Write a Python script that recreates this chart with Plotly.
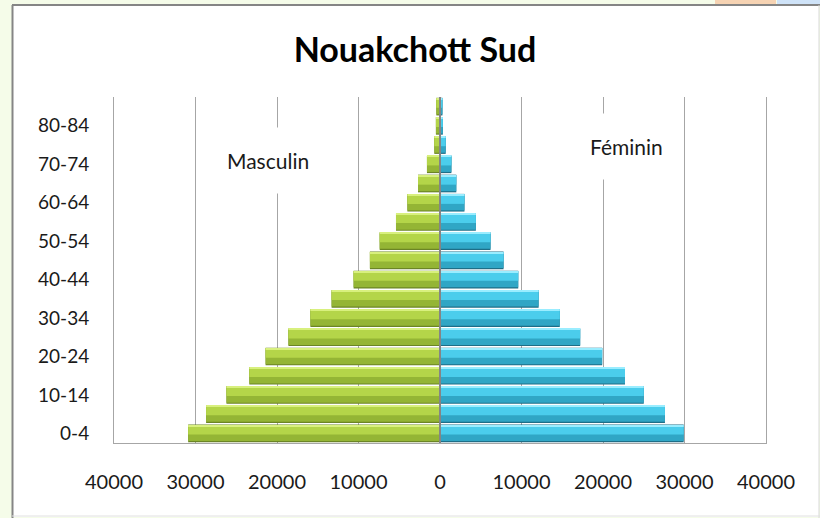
import plotly.graph_objects as go

age_groups = ["0-4", "5-9", "10-14", "15-19", "20-24", "25-29", "30-34", "35-39",
              "40-44", "45-49", "50-54", "55-59", "60-64", "65-69", "70-74",
              "75-79", "80-84", "85+"]
masculin = [30900, 28700, 26200, 23400, 21400, 18600, 15900, 13300, 10600,
            8600, 7400, 5400, 4000, 2700, 1600, 700, 500, 450]
feminin = [29900, 27600, 25000, 22700, 19900, 17200, 14700, 12100, 9600,
           7800, 6200, 4400, 3000, 2000, 1400, 700, 350, 300]
y_tick_labels = ["0-4", "10-14", "20-24", "30-34", "40-44", "50-54", "60-64", "70-74", "80-84"]
x_tick_values = [-40000, -30000, -20000, -10000, 0, 10000, 20000, 30000, 40000]
x_tick_labels = ["40000", "30000", "20000", "10000", "0", "10000", "20000", "30000", "40000"]

FONT = "Lato, 'Open Sans', sans-serif"

# bevel layers: (width, offset, color)
green_layers = [(0.92, -0.46, "#6b8525"), (0.84, -0.40, "#94b535"),
                (0.50, -0.06, "#b4d549"), (0.06, 0.38, "#d8f07e")]
blue_layers = [(0.92, -0.46, "#1e6e87"), (0.84, -0.40, "#30a6c5"),
               (0.50, -0.06, "#4bcdec"), (0.06, 0.38, "#9aedff")]

fig = go.Figure()
neg_m = [-v for v in masculin]
for w, off, col in green_layers:
    fig.add_trace(go.Bar(y=age_groups, x=neg_m, orientation="h", width=w, offset=off,
                         marker=dict(color=col, line=dict(width=0)),
                         name="Masculin", showlegend=False, hoverinfo="x+y"))
for w, off, col in blue_layers:
    fig.add_trace(go.Bar(y=age_groups, x=feminin, orientation="h", width=w, offset=off,
                         marker=dict(color=col, line=dict(width=0)),
                         name="Féminin", showlegend=False, hoverinfo="x+y"))

px0, px1, py0, py1 = 114, 766, 97, 443
def fx(p):
    return (p - px0) / (px1 - px0)
def fy(p):
    return (py1 - p) / (py1 - py0)

shapes = [
    dict(type="rect", xref="paper", yref="paper", x0=fx(12), x1=fx(819), y0=fy(517), y1=fy(5),
         fillcolor="white", line=dict(width=0), layer="below"),
    dict(type="line", xref="paper", yref="paper", x0=fx(12), x1=fx(820), y0=fy(5), y1=fy(5),
         line=dict(color="#858585", width=2), layer="below"),
    dict(type="line", xref="paper", yref="paper", x0=fx(12.5), x1=fx(12.5), y0=fy(518), y1=fy(5),
         line=dict(color="#858585", width=2), layer="below"),
    dict(type="line", xref="paper", yref="paper", x0=fx(819), x1=fx(819), y0=fy(518), y1=fy(5),
         line=dict(color="#d8d8d8", width=1), layer="below"),
    dict(type="line", xref="paper", yref="paper", x0=fx(12), x1=fx(820), y0=fy(516), y1=fy(516),
         line=dict(color="#e0e0e0", width=1), layer="below"),
    dict(type="rect", xref="paper", yref="paper", x0=fx(715), x1=fx(776), y0=fy(4), y1=fy(0),
         fillcolor="#f6d3b3", line=dict(width=0), layer="below"),
    dict(type="rect", xref="paper", yref="paper", x0=fx(777), x1=fx(820), y0=fy(4), y1=fy(0),
         fillcolor="#cfe3f8", line=dict(width=0), layer="below"),
    dict(type="line", xref="x", yref="paper", x0=0, x1=0, y0=0, y1=1,
         line=dict(color="#858585", width=2), layer="above"),
]

annotations = [
    dict(text="Masculin", xref="paper", yref="paper", x=fx(268), y=fy(160),
         showarrow=False, font=dict(family=FONT, size=21, color="#1a1a1a"),
         bgcolor="white", borderpad=20, xanchor="center", yanchor="middle"),
    dict(text="Féminin", xref="paper", yref="paper", x=fx(626), y=fy(146),
         showarrow=False, font=dict(family=FONT, size=21, color="#1a1a1a"),
         bgcolor="white", borderpad=20, xanchor="center", yanchor="middle"),
]

fig.update_layout(
    width=820, height=518,
    margin=dict(l=px0, r=820 - px1, t=py0, b=518 - py1),
    paper_bgcolor="#f5fce9",
    plot_bgcolor="white",
    barmode="overlay",
    title=dict(text="<b>Nouakchott Sud</b>", x=fx(415), xref="paper", xanchor="center",
               y=1 - 50 / 518, yanchor="middle",
               font=dict(family=FONT, size=34, color="black")),
    font=dict(family=FONT, size=19, color="#1a1a1a"),
    shapes=shapes,
    annotations=annotations,
    xaxis=dict(range=[-40000, 40000], tickvals=x_tick_values, ticktext=x_tick_labels,
               showgrid=True, gridcolor="#a6a6a6", gridwidth=1, zeroline=False,
               showline=True, linecolor="#a6a6a6", linewidth=1, mirror=False,
               ticks="", ticklabelstandoff=21, tickfont=dict(size=20)),
    yaxis=dict(type="category", categoryorder="array", categoryarray=age_groups,
               tickvals=y_tick_labels, ticktext=y_tick_labels,
               showgrid=False, zeroline=False, showline=True, mirror=True,
               linecolor="#a6a6a6", linewidth=1, ticks="",
               ticklabelstandoff=20, tickfont=dict(size=19)),
)

fig.write_html("out.html", config={"displayModeBar": False},
               post_script="document.body.style.margin='0';document.body.style.padding='0';")
